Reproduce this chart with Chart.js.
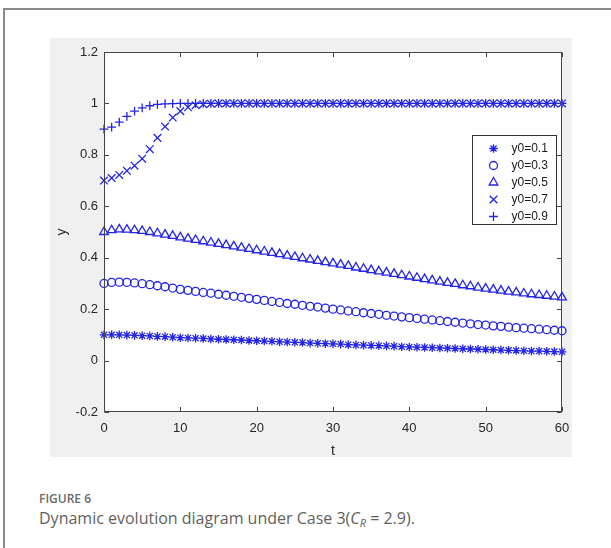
<!DOCTYPE html>
<html><head><meta charset="utf-8">
<script src="https://cdn.jsdelivr.net/npm/chart.js@4"></script>
<style>
html,body{margin:0;padding:0;background:#fff;width:611px;height:548px;overflow:hidden;position:relative;font-family:'Open Sans',sans-serif}
#frame{position:absolute;left:3px;top:8px;width:700px;height:700px;border-left:2px solid #8a8a8a;border-top:2px solid #8a8a8a}
#fig{position:absolute;left:50px;top:38px;width:522px;height:419px;background:#f0f0f0}
#lbl{position:absolute;left:39px;top:490px;font-size:12px;font-weight:600;color:#6a6a6a;letter-spacing:0}
#cap{position:absolute;left:39px;top:507px;font-size:16px;color:#5f5f5f;white-space:nowrap}
#cap sub{font-size:11px;vertical-align:-3px;line-height:0}
</style></head>
<body>
<div id="frame"></div>
<div id="fig"><canvas id="c" width="522" height="419"></canvas></div>
<div id="lbl">FIGURE 6</div>
<div id="cap">Dynamic evolution diagram under Case 3(<i>C<sub>R</sub></i> = 2.9).</div>
<script>
const tValues = [0,1,2,3,4,5,6,7,8,9,10,11,12,13,14,15,16,17,18,19,20,21,22,23,24,25,26,27,28,29,30,31,32,33,34,35,36,37,38,39,40,41,42,43,44,45,46,47,48,49,50,51,52,53,54,55,56,57,58,59,60];
const seriesLabels = ['y0=0.1','y0=0.3','y0=0.5','y0=0.7','y0=0.9'];
const yA = [0.100,0.100,0.100,0.099,0.098,0.097,0.096,0.094,0.093,0.091,0.089,
            0.088,0.087,0.086,0.084,0.083,0.082,0.081,0.080,0.078,0.077,
            0.076,0.075,0.073,0.072,0.071,0.070,0.068,0.067,0.066,0.065,
            0.064,0.062,0.061,0.060,0.059,0.058,0.057,0.056,0.054,0.053,
            0.052,0.051,0.050,0.049,0.048,0.047,0.046,0.045,0.044,0.043,
            0.042,0.041,0.040,0.039,0.038,0.037,0.037,0.036,0.035,0.034];
const yB = [0.300,0.304,0.305,0.304,0.302,0.299,0.295,0.291,0.287,0.282,0.277,
            0.273,0.269,0.265,0.262,0.258,0.254,0.250,0.246,0.242,0.238,
            0.234,0.230,0.226,0.222,0.219,0.215,0.211,0.208,0.204,0.200,
            0.197,0.193,0.190,0.186,0.183,0.180,0.176,0.173,0.170,0.167,
            0.164,0.161,0.158,0.155,0.152,0.149,0.146,0.143,0.140,0.138,
            0.135,0.133,0.130,0.128,0.126,0.124,0.122,0.120,0.118,0.116];
const yC = [0.500,0.507,0.510,0.509,0.507,0.504,0.500,0.495,0.490,0.485,0.479,
            0.474,0.469,0.464,0.459,0.454,0.449,0.444,0.439,0.434,0.429,
            0.424,0.419,0.414,0.408,0.403,0.398,0.393,0.388,0.383,0.378,
            0.373,0.368,0.362,0.357,0.352,0.347,0.342,0.337,0.332,0.327,
            0.322,0.317,0.312,0.307,0.302,0.298,0.293,0.289,0.284,0.280,
            0.276,0.272,0.268,0.265,0.261,0.258,0.255,0.252,0.249,0.246];
const yD = [0.700,0.710,0.722,0.738,0.758,0.785,0.822,0.866,0.910,0.945,0.970,
            0.985,0.993,0.997,0.999,1.000,1.000,1.000,1.000,1.000,1.000,
            1.000,1.000,1.000,1.000,1.000,1.000,1.000,1.000,1.000,1.000,
            1.000,1.000,1.000,1.000,1.000,1.000,1.000,1.000,1.000,1.000,
            1.000,1.000,1.000,1.000,1.000,1.000,1.000,1.000,1.000,1.000,
            1.000,1.000,1.000,1.000,1.000,1.000,1.000,1.000,1.000,1.000];
const yE = [0.900,0.908,0.927,0.950,0.970,0.983,0.991,0.996,0.998,0.999,1.000,
            1.000,1.000,1.000,1.000,1.000,1.000,1.000,1.000,1.000,1.000,
            1.000,1.000,1.000,1.000,1.000,1.000,1.000,1.000,1.000,1.000,
            1.000,1.000,1.000,1.000,1.000,1.000,1.000,1.000,1.000,1.000,
            1.000,1.000,1.000,1.000,1.000,1.000,1.000,1.000,1.000,1.000,
            1.000,1.000,1.000,1.000,1.000,1.000,1.000,1.000,1.000,1.000];
const xTicks = [0,10,20,30,40,50,60];
const xTickLabels = ['0','10','20','30','40','50','60'];
const yTicks = [-0.2,0,0.2,0.4,0.6,0.8,1,1.2];
const yTickLabels = ['-0.2','0','0.2','0.4','0.6','0.8','1','1.2'];

const BLUE = '#2424e8';
const styles = [
  {pointStyle:'star', radius:4.3},
  {pointStyle:'circle', radius:4.0},
  {pointStyle:'triangle', radius:5.0},
  {pointStyle:'crossRot', radius:5.4},
  {pointStyle:'cross', radius:4.4}
];
const allY = [yA,yB,yC,yD,yE];
const datasets = allY.map((ys,i)=>({
  label: seriesLabels[i],
  data: tValues.map((t,j)=>({x:t,y:ys[j]})),
  showLine:false,
  borderColor:BLUE,
  backgroundColor:'rgba(0,0,0,0)',
  pointStyle:styles[i].pointStyle,
  pointRadius:styles[i].radius,
  pointBorderWidth:1.3,
  pointBorderColor:BLUE,
  pointBackgroundColor:'rgba(0,0,0,0)',
  clip:false
}));

const tickFont = {family:"'Liberation Sans', Arial, sans-serif", size:13};
const AXC = '#262626';

const framePlugin = {
  id:'frame',
  beforeDraw(chart){
    const {ctx, chartArea:a} = chart;
    ctx.save(); ctx.fillStyle='#fff';
    ctx.fillRect(a.left,a.top,a.right-a.left,a.bottom-a.top); ctx.restore();
  },
  afterDraw(chart){
    const {ctx, chartArea:a, scales} = chart;
    ctx.save();
    ctx.strokeStyle='#444'; ctx.lineWidth=1;
    const L=Math.round(a.left)+0.5, R=Math.round(a.right)-0.5, T=Math.round(a.top)+0.5, B=Math.round(a.bottom)-0.5;
    ctx.strokeRect(L,T,R-L,B-T);
    const tl=4.5;
    ctx.beginPath();
    xTicks.forEach(v=>{ const p=Math.round(scales.x.getPixelForValue(v))+0.5;
      ctx.moveTo(p,B); ctx.lineTo(p,B-tl); ctx.moveTo(p,T); ctx.lineTo(p,T+tl); });
    yTicks.forEach(v=>{ const p=Math.round(scales.y.getPixelForValue(v))+0.5;
      ctx.moveTo(L,p); ctx.lineTo(L+tl,p); ctx.moveTo(R,p); ctx.lineTo(R-tl,p); });
    ctx.stroke();
    const bw=84, bh=89;
    const bx=Math.round(a.right-6-bw)+0.5, by=Math.round(a.top+83)+0.5;
    ctx.fillStyle='#fff'; ctx.fillRect(bx,by,bw,bh);
    ctx.strokeStyle='#333'; ctx.strokeRect(bx,by,bw,bh);
    ctx.font="12px 'Liberation Sans', Arial, sans-serif";
    ctx.textBaseline='middle'; ctx.textAlign='left';
    chart.data.datasets.forEach((ds,i)=>{
      const cy=by+13+i*17, mx=bx+21;
      ctx.strokeStyle=ds.pointBorderColor; ctx.fillStyle='rgba(0,0,0,0)'; ctx.lineWidth=1.3;
      Chart.helpers.drawPoint(ctx,{pointStyle:ds.pointStyle,radius:ds.pointRadius,borderWidth:1.3,rotation:0},mx,cy);
      ctx.fillStyle='#1a1a1a';
      ctx.fillText(ds.label,bx+39,cy+0.5);
    });
    ctx.restore();
  }
};

function noPad(s){ s.paddingLeft=0; s.paddingRight=0; s.paddingTop=0; s.paddingBottom=0; }

new Chart(document.getElementById('c'),{
  type:'scatter',
  data:{datasets},
  options:{
    responsive:false, animation:false, devicePixelRatio:1,
    layout:{padding:{top:14,right:10,left:0,bottom:0}},
    plugins:{legend:{display:false}, tooltip:{enabled:false}},
    scales:{
      x:{type:'linear', min:0, max:60,
        afterBuildTicks:s=>{s.ticks=xTicks.map(v=>({value:v}));},
        afterFit:s=>{s.height=45; noPad(s);},
        grid:{display:false, drawTicks:false}, border:{display:false},
        ticks:{autoSkip:false, maxRotation:0, padding:9, color:AXC, font:tickFont,
          callback:v=>xTickLabels[xTicks.indexOf(v)]},
        title:{display:true, text:'t', color:AXC, font:{family:tickFont.family,size:14}, padding:{top:0,bottom:-3}}
      },
      y:{type:'linear', min:-0.2, max:1.2,
        afterBuildTicks:s=>{s.ticks=yTicks.map(v=>({value:v}));},
        afterFit:s=>{s.width=54; noPad(s);},
        grid:{display:false, drawTicks:false}, border:{display:false},
        ticks:{autoSkip:false, padding:6, color:AXC, font:tickFont,
          callback:v=>{const i=yTicks.findIndex(t=>Math.abs(t-v)<1e-9); return yTickLabels[i];}},
        title:{display:true, text:'y', color:AXC, font:{family:tickFont.family,size:14}, padding:{top:4,bottom:0}}
      }
    }
  },
  plugins:[framePlugin]
});
</script>
</body></html>
